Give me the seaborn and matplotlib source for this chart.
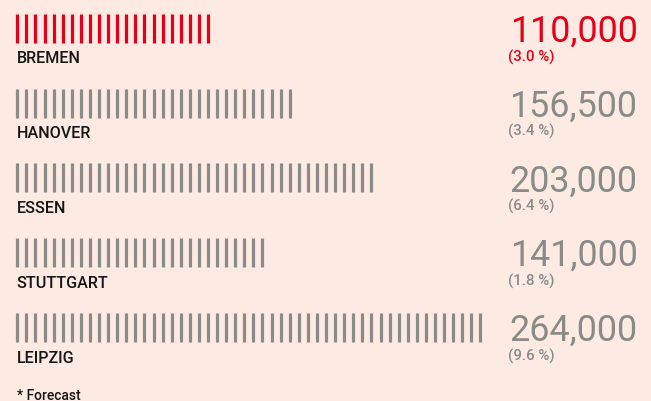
import numpy as np
import pandas as pd
import seaborn as sns
import matplotlib.pyplot as plt

cities = ["BREMEN", "HANOVER", "ESSEN", "STUTTGART", "LEIPZIG"]
values = [110000, 156500, 203000, 141000, 264000]
shares = ["(3.0 %)", "(3.4 %)", "(6.4 %)", "(1.8 %)", "(9.6 %)"]
highlight = "BREMEN"
unit = 5000  # one stroke = 5,000
footnote = "* Forecast"

BG = "#fdebe3"
RED = "#e2001a"
GREY = "#8a8a88"
INK = "#161616"

sns.set_theme(style="white")
plt.rcParams["font.family"] = ["Roboto", "DejaVu Sans"]

# long table: one row per stroke
rows = []
for r, (city, val) in enumerate(zip(cities, values)):
    for i in range(val // unit):
        rows.append({"city": city, "stroke": i, "row": r})
df = pd.DataFrame(rows)
palette = {c: (RED if c == highlight else GREY) for c in cities}

fig = plt.figure(figsize=(6.51, 4.02), dpi=100)
fig.patch.set_facecolor(BG)
ax = fig.add_axes([0, 0, 1, 1])
ax.set_facecolor(BG)

# scale: 9.08 px per stroke, 74.8 px per row
px_x, px_y = 9.08, 74.8
x0, y0 = 17.3, 29.2
ax.set_xlim(-x0 / px_x, (651 - x0) / px_x)
ax.set_ylim((402 - y0) / px_y, -y0 / px_y)

sns.scatterplot(data=df, x="stroke", y="row", hue="city", palette=palette,
                marker="|", s=(29 * 0.72) ** 2, linewidth=2.3, legend=False, ax=ax)

x_num = (637.5 - x0) / px_x
x_pct = (507.5 - x0) / px_x
x_lab = (16.7 - x0) / px_x
for r, (city, val, pct) in enumerate(zip(cities, values, shares)):
    col = RED if city == highlight else GREY
    ax.text(x_lab, r + 34.2 / px_y, city, fontsize=11.6, fontweight="medium",
            color=INK, ha="left", va="baseline")
    ax.text(x_num, r + 12.5 / px_y, "{:,}".format(val), fontsize=25.8,
            color=col, ha="right", va="baseline")
    ax.text(x_pct, r + 32.0 / px_y, pct, fontsize=10.8, fontweight="medium",
            color=col, ha="left", va="baseline")

ax.text(x_lab, 4 + (400.5 - 328.7) / px_y, footnote, fontsize=10, fontweight="medium",
        color=INK, ha="left", va="baseline")

ax.set_axis_off()
fig.savefig("out.png", dpi=100, facecolor=BG)
